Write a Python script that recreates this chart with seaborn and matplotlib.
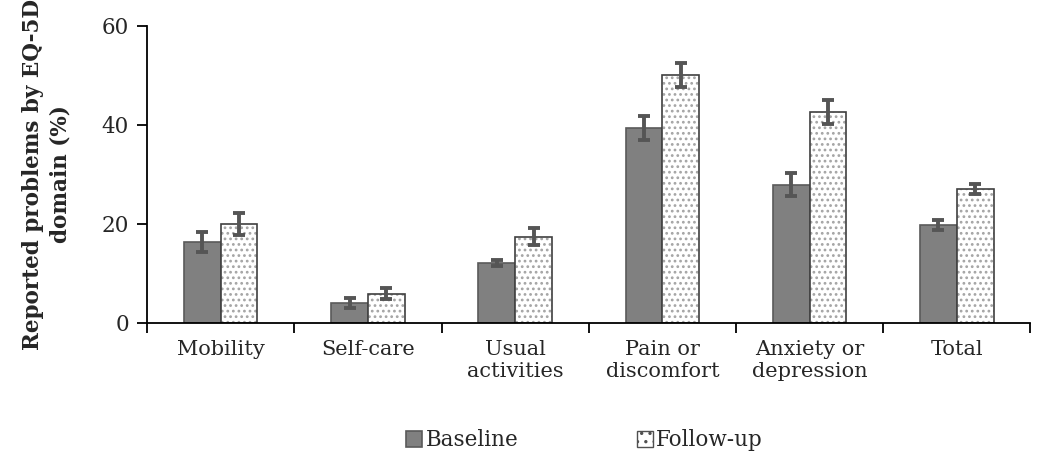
import pandas as pd
import seaborn as sns
import matplotlib.pyplot as plt
from matplotlib.ticker import FixedLocator

# values (%)
domains = ["Mobility", "Self-care", "Usual\nactivities", "Pain or\ndiscomfort",
           "Anxiety or\ndepression", "Total"]
baseline = [16.4, 4.0, 12.1, 39.4, 27.9, 19.8]
followup = [20.0, 5.9, 17.4, 50.1, 42.6, 27.1]
baseline_err = [2.0, 1.0, 0.6, 2.4, 2.3, 1.0]
followup_err = [2.3, 1.1, 1.7, 2.4, 2.4, 1.0]
groups = ["Baseline", "Follow-up"]

df = pd.DataFrame({
    "domain": domains * 2,
    "value": baseline + followup,
    "group": [groups[0]] * len(domains) + [groups[1]] * len(domains),
})

sns.set_style("white")
plt.rcParams["font.family"] = ["DejaVu Serif"]
plt.rcParams["hatch.color"] = "#a4a4a4"
plt.rcParams["hatch.linewidth"] = 1.2

fig, ax = plt.subplots(figsize=(10.43, 4.53), dpi=100)
fig.subplots_adjust(left=0.141, right=0.988, top=0.943, bottom=0.287)

sns.barplot(data=df, x="domain", y="value", hue="group", order=domains,
            hue_order=groups, palette=["#808080", "white"], width=0.5,
            errorbar=None, legend=False, ax=ax)

# styling of the two series
for bar in ax.containers[0]:
    bar.set_edgecolor("#5a5a5a")
    bar.set_linewidth(1.2)
for bar in ax.containers[1]:
    bar.set_hatch("...")
    bar.set_edgecolor("#a4a4a4")
    bar.set_linewidth(0)
    # dark outline drawn on top of the dotted fill
    x, y = bar.get_xy()
    ax.add_patch(plt.Rectangle((x, y), bar.get_width(), bar.get_height(),
                               fill=False, edgecolor="#404040", linewidth=1.2,
                               zorder=bar.get_zorder() + 0.1))

# error bars on top of each bar
for cont, errs in zip(ax.containers, [baseline_err, followup_err]):
    xs = [b.get_x() + b.get_width() / 2 for b in cont]
    ys = [b.get_height() for b in cont]
    ax.errorbar(xs, ys, yerr=errs, fmt="none", ecolor="#555555",
                elinewidth=2.8, capsize=4.5, capthick=2.8, zorder=5)

ax.set_ylim(0, 60)
ax.set_yticks([0, 20, 40, 60])
ax.set_xlim(-0.5, len(domains) - 0.5)
ax.xaxis.set_minor_locator(FixedLocator([i - 0.5 for i in range(len(domains) + 1)]))
ax.tick_params(axis="x", which="major", length=0, pad=12, labelsize=15)
ax.tick_params(axis="x", which="minor", length=7, width=1.3, color="black", direction="out", bottom=True)
ax.tick_params(axis="y", length=7, width=1.3, color="black", direction="out", left=True, labelsize=15.5, pad=6)

for side in ["top", "right"]:
    ax.spines[side].set_visible(False)
for side in ["left", "bottom"]:
    ax.spines[side].set_color("black")
    ax.spines[side].set_linewidth(1.3)

ax.set_xlabel("")
ax.set_ylabel("Reported problems by EQ-5D\ndomain (%)", fontsize=15.5,
              fontweight="bold", labelpad=22, linespacing=1.3)

handles = [ax.containers[0].patches[0],
           plt.Rectangle((0, 0), 1, 1, facecolor="white", edgecolor="#505050",
                         hatch="..", linewidth=1.0)]
ax.legend(handles, groups, loc="center", bbox_to_anchor=(0.495, -0.395),
          ncol=2, frameon=False, fontsize=15.5, handlelength=0.75, handleheight=0.75,
          handletextpad=0.15, columnspacing=5.5)

plt.savefig("out.png", dpi=100)
